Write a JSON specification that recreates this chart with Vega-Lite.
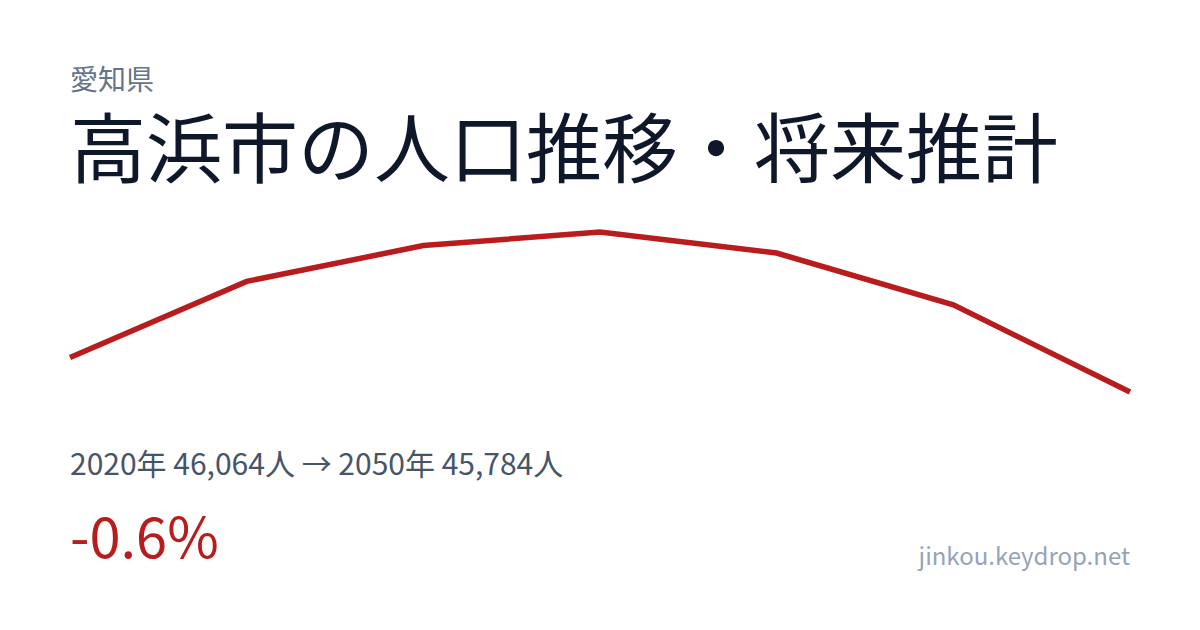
{
  "$schema": "https://vega.github.io/schema/vega-lite/v6.json",
  "description": "高浜市の人口推移・将来推計",
  "width": 1200,
  "height": 630,
  "autosize": {"type": "none"},
  "padding": 0,
  "background": "white",
  "config": {"view": {"stroke": null}, "font": "Noto Sans CJK JP"},
  "datasets": {
    "population": [
      {"year": 2020, "population": 46064},
      {"year": 2025, "population": 46680},
      {"year": 2030, "population": 46970},
      {"year": 2035, "population": 47080},
      {"year": 2040, "population": 46910},
      {"year": 2045, "population": 46490},
      {"year": 2050, "population": 45784}
    ],
    "labels": [
      {"key": "pref", "text": "愛知県"},
      {"key": "title", "text": "高浜市の人口推移・将来推計"},
      {"key": "summary", "text": "2020年 46,064人 → 2050年 45,784人"},
      {"key": "change", "text": "-0.6%"},
      {"key": "site", "text": "jinkou.keydrop.net"}
    ]
  },
  "encoding": {
    "x": {
      "type": "quantitative",
      "axis": null,
      "scale": {"domain": [2020, 2050], "range": [70, 1130], "nice": false, "zero": false}
    },
    "y": {
      "type": "quantitative",
      "axis": null,
      "scale": {"domain": [45784, 47080], "range": [392, 232], "nice": false, "zero": false}
    }
  },
  "layer": [
    {
      "data": {"name": "population"},
      "mark": {"type": "line", "color": "#b91c1c", "strokeWidth": 5.5, "strokeJoin": "miter", "strokeCap": "butt"},
      "encoding": {
        "x": {"field": "year", "type": "quantitative"},
        "y": {"field": "population", "type": "quantitative"}
      }
    },
    {
      "data": {"name": "labels"},
      "transform": [{"filter": "datum.key === 'pref'"}],
      "mark": {"type": "text", "align": "left", "baseline": "alphabetic", "fontSize": 28, "color": "#64748b"},
      "encoding": {
        "x": {"datum": 2020, "type": "quantitative"},
        "y": {"datum": 48230, "type": "quantitative"},
        "text": {"field": "text"}
      }
    },
    {
      "data": {"name": "labels"},
      "transform": [{"filter": "datum.key === 'title'"}],
      "mark": {"type": "text", "align": "left", "baseline": "alphabetic", "fontSize": 76, "color": "#0f172a"},
      "encoding": {
        "x": {"datum": 2020, "type": "quantitative"},
        "y": {"datum": 47526, "type": "quantitative"},
        "text": {"field": "text"}
      }
    },
    {
      "data": {"name": "labels"},
      "transform": [{"filter": "datum.key === 'summary'"}],
      "mark": {"type": "text", "align": "left", "baseline": "alphabetic", "fontSize": 30, "color": "#475569"},
      "encoding": {
        "x": {"datum": 2020, "type": "quantitative"},
        "y": {"datum": 45112, "type": "quantitative"},
        "text": {"field": "text"}
      }
    },
    {
      "data": {"name": "labels"},
      "transform": [{"filter": "datum.key === 'change'"}],
      "mark": {"type": "text", "align": "left", "baseline": "alphabetic", "fontSize": 56, "color": "#b91c1c"},
      "encoding": {
        "x": {"datum": 2020, "type": "quantitative"},
        "y": {"datum": 44439, "type": "quantitative"},
        "text": {"field": "text"}
      }
    },
    {
      "data": {"name": "labels"},
      "transform": [{"filter": "datum.key === 'site'"}],
      "mark": {"type": "text", "align": "right", "baseline": "alphabetic", "fontSize": 24, "color": "#94a3b8"},
      "encoding": {
        "x": {"datum": 2050, "type": "quantitative"},
        "y": {"datum": 44383, "type": "quantitative"},
        "text": {"field": "text"}
      }
    }
  ]
}
